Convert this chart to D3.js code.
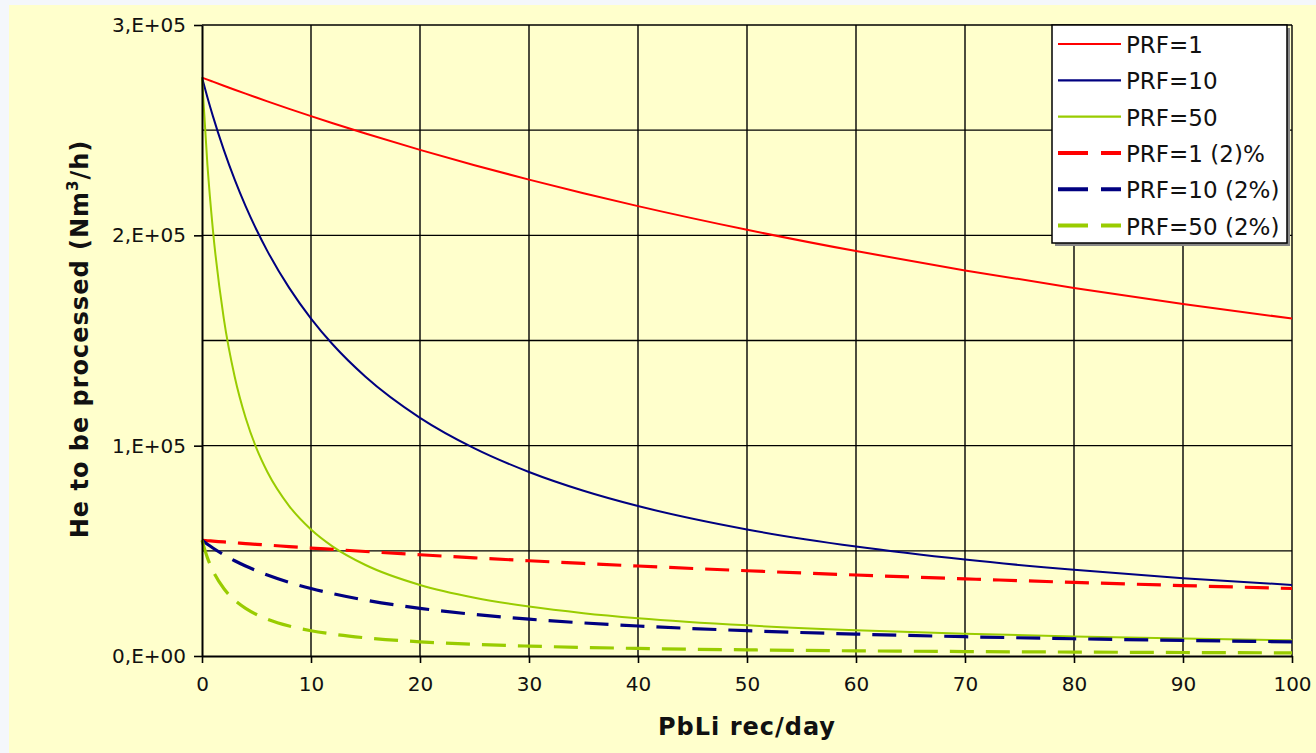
<!DOCTYPE html>
<meta charset="utf-8">
<style>
  body { margin: 0; background: #f4f7fb; }
  text { font-family: 'DejaVu Sans', sans-serif; fill: #111; }
</style>
<body>
<div id="chart"></div>
<script src="https://d3js.org/d3.v7.min.js"></script>
<script>

// PbLi recirculation (per day) sampled along the curves
var xs = [0, 0.5, 1, 2, 3, 4, 5, 6, 8, 10, 12, 15, 20, 25, 30, 35, 40, 50, 60, 70, 80, 90, 100];

// He to be processed (Nm3/h)
var prf1   = [275000,274020,273050,271130,269230,267360,265520,263700,260140,256670,253290,248390,240630,233330,226470,220000,213890,202630,192500,183330,175000,167390,160420];
var prf10  = [275000,265520,256670,240630,226470,213890,202630,192500,175000,160420,148080,132760,113240,98720,87500,78570,71300,60160,52030,45830,40960,37020,33770];
var prf50  = [275000,233330,202630,160420,132760,113240,98720,87500,71300,60160,52030,43260,33770,27700,23480,20370,17990,14580,12260,10580,9300,8300,7490];
var prf1d  = [55000,54800,54610,54230,53850,53470,53100,52740,52030,51330,50660,49680,48130,46670,45290,44000,42780,40530,38500,36670,35000,33480,32080];
var prf10d = [55000,53100,51330,48130,45290,42780,40530,38500,35000,32080,29620,26550,22650,19740,17500,15710,14260,12030,10410,9170,8190,7400,6750];
var prf50d = [55000,46670,40530,32080,26550,22650,19740,17500,14260,12030,10410,8650,6750,5540,4700,4070,3600,2920,2450,2120,1860,1660,1500];

var seriesNames = ["PRF=1", "PRF=10", "PRF=50", "PRF=1 (2)%", "PRF=10 (2%)", "PRF=50 (2%)"];
var seriesValues = [prf1, prf10, prf50, prf1d, prf10d, prf50d];

var xTicks = [0, 10, 20, 30, 40, 50, 60, 70, 80, 90, 100];
var yTicks = [0, 100000, 200000, 300000];
var yTickLabels = ["0,E+00", "1,E+05", "2,E+05", "3,E+05"];
var yGrid = [50000, 100000, 150000, 200000, 250000, 300000];

var colors = ["#ff0000", "#000080", "#99cc00", "#ff0000", "#000080", "#99cc00"];
var dashed = [false, false, false, true, true, true];

var W = 1316, H = 753;
var pLeft = 202, pRight = 1292, pTop = 25, pBottom = 656;

var svg = d3.select("#chart").append("svg")
  .attr("width", W).attr("height", H);

svg.append("rect").attr("x", 9).attr("y", 5)
  .attr("width", W - 9).attr("height", H - 5)
  .attr("fill", "#ffffcc");

var x = d3.scaleLinear().domain([0, 100]).range([pLeft, pRight]);
var y = d3.scaleLinear().domain([0, 300000]).range([pBottom, pTop]);

// grid
svg.append("g").selectAll("line").data(xTicks.slice(1)).enter().append("line")
  .attr("x1", function(d) { return x(d); }).attr("x2", function(d) { return x(d); })
  .attr("y1", y(0)).attr("y2", y(300000))
  .attr("stroke", "#000").attr("stroke-width", 1.4);
svg.append("g").selectAll("line").data(yGrid).enter().append("line")
  .attr("x1", x(0)).attr("x2", x(100))
  .attr("y1", function(d) { return y(d); }).attr("y2", function(d) { return y(d); })
  .attr("stroke", "#000").attr("stroke-width", 1.4);

// curves
var line = d3.line()
  .x(function(d) { return x(d[0]); })
  .y(function(d) { return y(d[1]); })
  .curve(d3.curveMonotoneX);

seriesValues.forEach(function(vals, i) {
  var pts = xs.map(function(v, j) { return [v, vals[j]]; });
  svg.append("path").datum(pts)
    .attr("d", line)
    .attr("fill", "none")
    .attr("stroke", colors[i])
    .attr("stroke-width", dashed[i] ? 3.2 : 2)
    .attr("stroke-dasharray", dashed[i] ? "24,12" : null);
});

// axes
var xAxis = svg.append("g").attr("transform", "translate(0," + pBottom + ")")
  .call(d3.axisBottom(x).tickValues(xTicks).tickSize(7).tickPadding(14).tickSizeOuter(0));
var yAxis = svg.append("g").attr("transform", "translate(" + pLeft + ",0)")
  .call(d3.axisLeft(y).tickValues(yTicks).tickSize(8).tickPadding(8).tickSizeOuter(0)
    .tickFormat(function(d, i) { return yTickLabels[i]; }));

[xAxis, yAxis].forEach(function(g) {
  g.select(".domain").attr("stroke", "#000").attr("stroke-width", 2);
  g.selectAll(".tick line").attr("stroke", "#000").attr("stroke-width", 1.6);
  g.selectAll("text").attr("font-family", "'DejaVu Sans', sans-serif")
    .attr("font-size", 20).attr("fill", "#222");
});

// axis titles
svg.append("text")
  .attr("x", (pLeft + pRight) / 2).attr("y", 735)
  .attr("text-anchor", "middle")
  .attr("font-size", 24).attr("font-weight", "bold")
  .attr("letter-spacing", 1)
  .text("PbLi rec/day");

var yt = svg.append("text")
  .attr("transform", "translate(88,339) rotate(-90)")
  .attr("text-anchor", "middle")
  .attr("font-size", 24).attr("font-weight", "bold")
  .attr("letter-spacing", 1);
yt.append("tspan").text("He to be processed (Nm");
yt.append("tspan").attr("font-size", 15).attr("dy", -10).text("3");
yt.append("tspan").attr("dy", 10).text("/h)");

// legend
var lg = svg.append("g");
lg.append("rect").attr("x", 1055).attr("y", 28).attr("width", 235).attr("height", 218)
  .attr("fill", "#888");
lg.append("rect").attr("x", 1052).attr("y", 25).attr("width", 235).attr("height", 218)
  .attr("fill", "#fff").attr("stroke", "#000").attr("stroke-width", 1.5);

seriesNames.forEach(function(name, i) {
  var by = 53 + i * 36.3;
  lg.append("line")
    .attr("x1", 1058).attr("x2", 1121)
    .attr("y1", by - 9).attr("y2", by - 9)
    .attr("stroke", colors[i])
    .attr("stroke-width", dashed[i] ? 4 : 2.2)
    .attr("stroke-dasharray", dashed[i] ? "30,13" : null);
  lg.append("text").attr("x", 1126).attr("y", by)
    .attr("font-size", 23).attr("fill", "#222")
    .text(name);
});

</script>
</body>
